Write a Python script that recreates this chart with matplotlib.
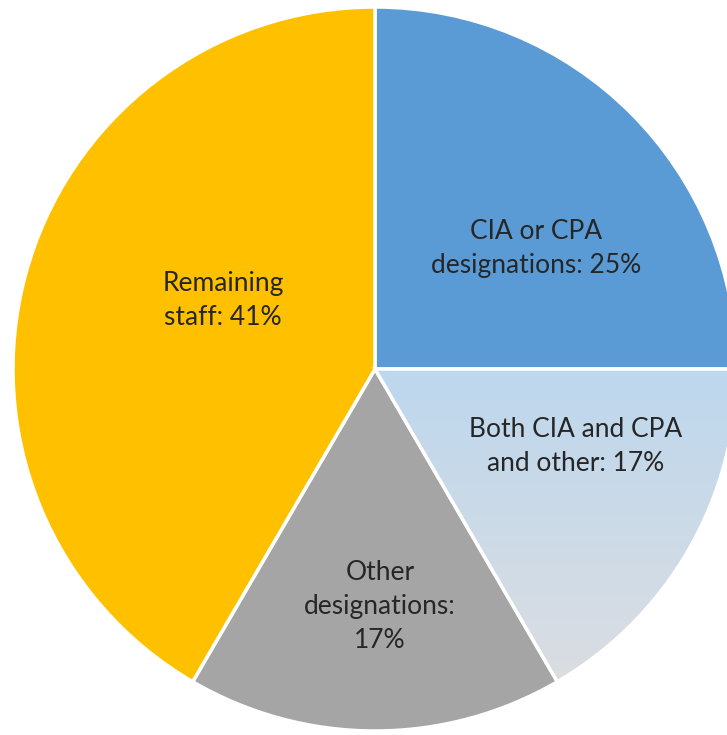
import numpy as np
import matplotlib
matplotlib.use("Agg")
import matplotlib.pyplot as plt

labels = ["CIA or CPA\ndesignations: 25%", "Both CIA and CPA\nand other: 17%",
          "Other\ndesignations:\n17%", "Remaining\nstaff: 41%"]
shares = [25.0, 16.6, 16.8, 41.6]
colors = ["#5B9BD5", "#BDD7EE", "#A5A5A5", "#FFC000"]
# label placement: distance from centre and angle offset from slice middle
label_dist = [0.555, 0.595, 0.655, 0.46]
label_shift = [-8.3, 8.9, 1.2, -9.0]

plt.rcParams['font.family'] = ['Lato', 'DejaVu Sans']

W, H = 727, 735
fig = plt.figure(figsize=(W / 100, H / 100), dpi=100)
ax = fig.add_axes([0, 0, 1, 1])

wedges, texts = ax.pie(shares, colors=colors, startangle=90, counterclock=False,
                       radius=1, wedgeprops=dict(edgecolor="white", linewidth=2.5))

# gradient fill for the light blue slice
grad = np.linspace(0, 1, 256)[:, None]
top = np.array([189, 215, 238]) / 255
bot = np.array([222, 222, 224]) / 255
img = top + (bot - top) * grad[..., None]
img = np.repeat(img, 2, axis=1)
w = wedges[1]
im = ax.imshow(img, extent=(0, 1, -0.95, 0.0), origin="upper", aspect="auto", zorder=1.5)
im.set_clip_path(w)
w.set_facecolor("none")
w.set_zorder(2)

cx, cy, R = 375, 369, 362
ax.set_xlim(-cx / R, (W - cx) / R)
ax.set_ylim(-(H - cy) / R, cy / R)
ax.set_aspect("equal")
ax.axis("off")

for wd, d, s, txt in zip(wedges, label_dist, label_shift, labels):
    ang = np.deg2rad((wd.theta1 + wd.theta2) / 2 + s)
    ax.text(d * np.cos(ang), d * np.sin(ang), txt, ha="center", va="center",
            fontsize=19, color="#262626", linespacing=1.45, zorder=3)

fig.savefig("out.png", dpi=100)
